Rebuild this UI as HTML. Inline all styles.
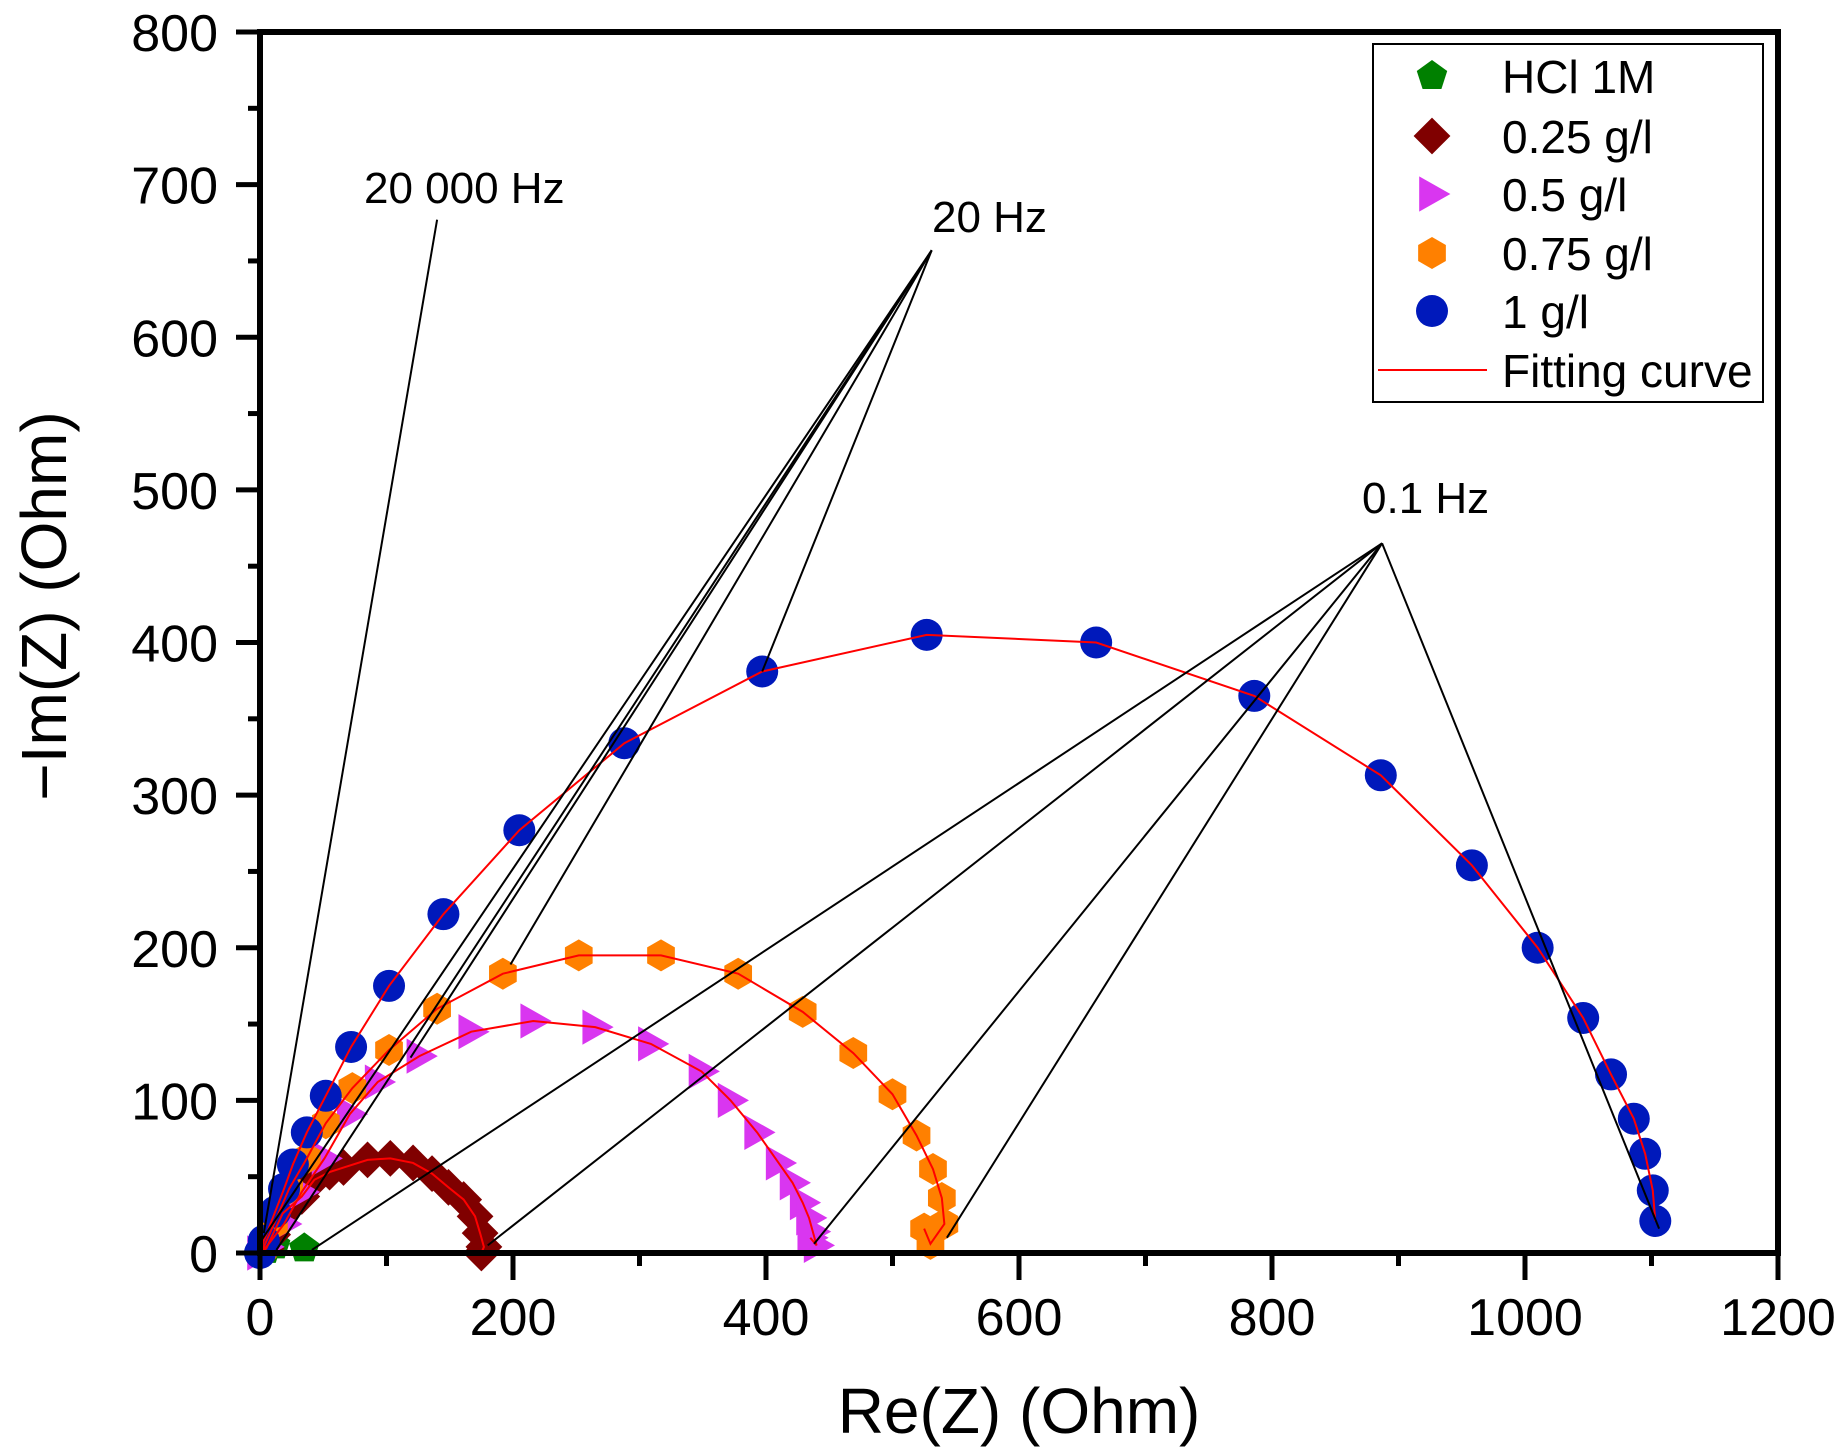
<!DOCTYPE html>
<html><head><meta charset="utf-8"><style>
html,body{margin:0;padding:0;background:#fff;}
svg{display:block;font-family:"Liberation Sans",Arial,sans-serif;}
</style></head><body>
<svg id="chart" width="1844" height="1455" viewBox="0 0 1844 1455" xmlns="http://www.w3.org/2000/svg">
<g id="plot"></g>
<g id="axes"></g>
<text x="1019" y="1433" font-size="64" text-anchor="middle">Re(Z) (Ohm)</text>
<text transform="translate(66,606) rotate(-90)" font-size="64" text-anchor="middle">−Im(Z) (Ohm)</text>
<text x="364" y="203" font-size="44">20 000 Hz</text>
<text x="932" y="232" font-size="44">20 Hz</text>
<text x="1362" y="513" font-size="44">0.1 Hz</text>
<g id="legend">
<rect x="1373" y="44" width="390" height="358" fill="#fff" stroke="#000" stroke-width="2"/>
</g>
</svg>
<script>
const xTicks=[0,200,400,600,800,1000,1200];
const yTicks=[0,100,200,300,400,500,600,700,800];
const hclX=[0,5,12,35];
const hclY=[0,2,5,3];
const s025X=[0,5,10,18,33,43,55,66,85,103,121,136,149,161,170,174,177,175];
const s025Y=[0,3,12,26,37,48,53,56,61,62,59,52,43,35,24,13,4,0];
const s05X=[0,5,19,33,51,71,93,126,167,216,265,309,349,372,393,410,421,429,434,437,440,435];
const s05Y=[0,4,19,40,62,91,112,129,145,152,148,137,119,100,79,59,46,33,23,14,5,10];
const s075X=[0,2,11,23,37,52,73,102,140,192,252,317,378,429,469,500,519,532,539,541,530,525];
const s075Y=[0,2,19,42,62,85,108,133,160,183,195,195,183,158,131,104,77,55,36,19,6,16];
const s1X=[0,3,12,19,26,37,52,72,102,145,205,288,397,527,661,786,886,958,1010,1046,1068,1086,1095,1101,1103];
const s1Y=[0,8,27,42,58,79,103,135,175,222,277,334,381,405,400,365,313,254,200,154,117,88,65,41,21];
const annX1=[140,531,531,531,531,531,887,887,887,887,887];
const annY1=[677,657,657,657,657,657,465,465,465,465,465];
const annX2=[3,397,198,119,0,13,41,180,438,543,1106];
const annY2=[13,381,189,128,7,2,2,5,6,10,16];
const legendLabels=["HCl 1M","0.25 g/l","0.5 g/l","0.75 g/l","1 g/l","Fitting curve"];

const NS="http://www.w3.org/2000/svg";
const X0=260,X1=1778,Y0=1253,Y1=32;
const sx=v=>X0+v*(X1-X0)/1200;
const sy=v=>Y0-v*(Y0-Y1)/800;
function el(tag,attrs,parent){const e=document.createElementNS(NS,tag);for(const k in attrs)e.setAttribute(k,attrs[k]);parent.appendChild(e);return e;}
const plot=document.getElementById('plot'),axes=document.getElementById('axes'),legend=document.getElementById('legend');

function marker(type,cx,cy,r,parent,color){
  let e;
  if(type==='circle'){e=el('circle',{cx:cx,cy:cy,r:r,fill:color},parent);}
  else{
    let pts=[];
    if(type==='pent'){for(let i=0;i<5;i++){const a=-Math.PI/2+i*2*Math.PI/5;pts.push([cx+r*Math.cos(a),cy+r*Math.sin(a)]);}}
    if(type==='diamond'){pts=[[cx,cy-r*1.15],[cx+r*1.15,cy],[cx,cy+r*1.15],[cx-r*1.15,cy]];}
    if(type==='tri'){pts=[[cx-r*0.8,cy-r*1.1],[cx+r*1.15,cy],[cx-r*0.8,cy+r*1.1]];}
    if(type==='hex'){for(let i=0;i<6;i++){const a=-Math.PI/2+i*Math.PI/3;pts.push([cx+r*Math.cos(a),cy+r*Math.sin(a)]);}}
    e=el('polygon',{points:pts.map(p=>p.join(',')).join(' '),fill:color},parent);
  }
  return e;
}
const series=[
 {x:hclX,y:hclY,type:'pent',color:'#008000',name:'hcl-1m',fit:false},
 {x:s025X,y:s025Y,type:'diamond',color:'#800000',name:'0-25gl',fit:true},
 {x:s05X,y:s05Y,type:'tri',color:'#d936f0',name:'0-5gl',fit:true},
 {x:s075X,y:s075Y,type:'hex',color:'#ff8000',name:'0-75gl',fit:true},
 {x:s1X,y:s1Y,type:'circle',color:'#0019bb',name:'1gl',fit:true}
];
series.forEach(s=>{
  s.x.forEach((v,i)=>{
    const m=marker(s.type,sx(v),sy(s.y[i]),16,plot,s.color);
    
    
  });
});
series.forEach(s=>{
  if(!s.fit)return;
  const p=el('polyline',{points:s.x.map((v,i)=>sx(v)+','+sy(s.y[i])).join(' '),fill:'none',stroke:'#ff0000','stroke-width':2},plot);
  
  
});
annX1.forEach((v,i)=>{
  const l=el('line',{x1:sx(v),y1:sy(annY1[i]),x2:sx(annX2[i]),y2:sy(annY2[i]),stroke:'#000','stroke-width':2},plot);
  
  
});
const fr=el('path',{d:`M${X0},${Y1} L${X0},${Y0} L${X1},${Y0} L${X1},${Y1} Z`,fill:'none',stroke:'#000','stroke-width':6},axes);


xTicks.forEach(v=>{
  const t=el('line',{x1:sx(v),y1:Y0,x2:sx(v),y2:Y0+27,stroke:'#000','stroke-width':5},axes);
  
  
  const tx=el('text',{x:sx(v),y:1335,'font-size':52,'text-anchor':'middle'},axes);
  tx.textContent=v;
  
  
  if(v<1200){const m=el('line',{x1:sx(v+100),y1:Y0,x2:sx(v+100),y2:Y0+13,stroke:'#000','stroke-width':5},axes);
  
  }
});
yTicks.forEach(v=>{
  const t=el('line',{x1:X0-24,y1:sy(v),x2:X0,y2:sy(v),stroke:'#000','stroke-width':5},axes);
  
  
  const tx=el('text',{x:218,y:sy(v)+19,'font-size':52,'text-anchor':'end'},axes);
  tx.textContent=v;
  
  
  if(v<800){const m=el('line',{x1:X0-12,y1:sy(v+50),x2:X0,y2:sy(v+50),stroke:'#000','stroke-width':5},axes);
  
  }
});
const rowY=[76,136,194,253,311,370];
legendLabels.forEach((lab,i)=>{
  if(i<5){const m=marker(series[i].type,1432,rowY[i],16,legend,series[i].color);
    
    }
  else{const l=el('line',{x1:1378,y1:rowY[i],x2:1487,y2:rowY[i],stroke:'#ff0000','stroke-width':2},legend);
    
    }
  const t=el('text',{x:1502,y:rowY[i]+17,'font-size':46},legend);
  t.textContent=lab;
  
  
});
</script>
</body></html>
